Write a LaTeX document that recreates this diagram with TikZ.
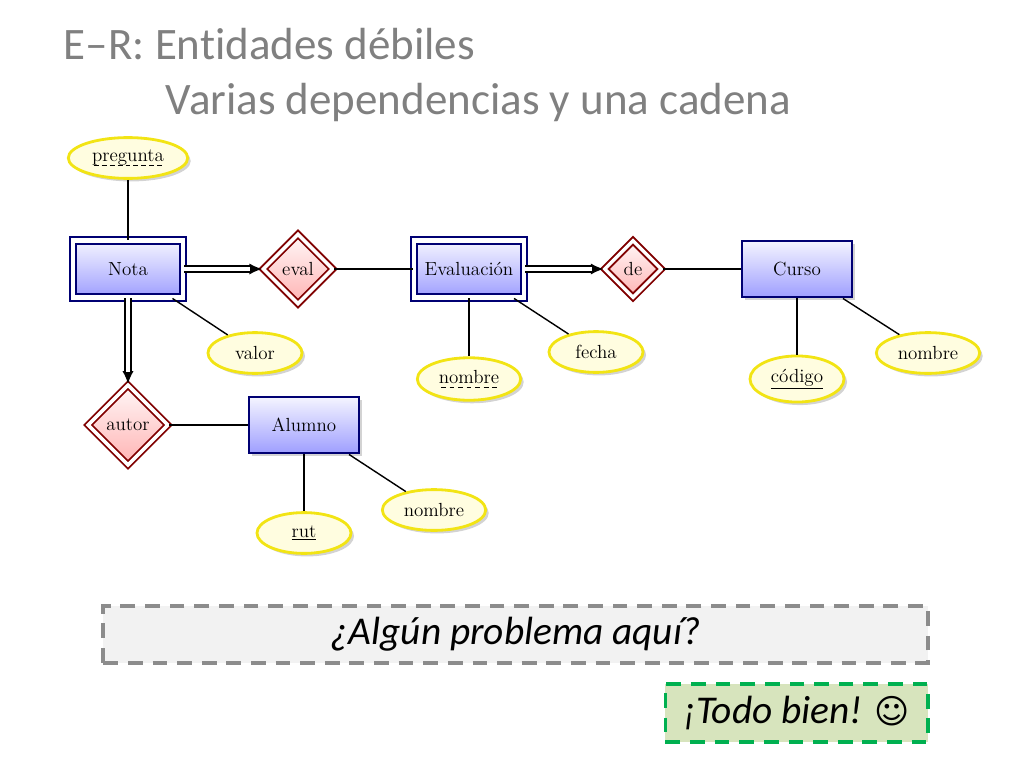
\documentclass[tikz,border=0pt]{standalone}
\usepackage{fontspec}
\usepackage{tikz}
\usetikzlibrary{arrows.meta, positioning, shapes.geometric, shapes, shadows}

\newfontfamily\slidefont[Ligatures={TeX,NoCommon}]{Carlito}
\newfontfamily\symbolfont{DejaVu Sans}
\definecolor{titlegray}{HTML}{808080}
\definecolor{boxgray}{HTML}{8C8C8C}
\definecolor{boxfill}{HTML}{F2F2F2}
\definecolor{okgreen}{HTML}{00B050}
\definecolor{okfill}{HTML}{D7E4BD}
\definecolor{attrborder}{RGB}{242,228,20}

% dashed underline for partial keys
\newcommand{\partkey}[1]{\setbox0=\hbox{#1}\leavevmode\rlap{\copy0}%
  \raisebox{-3pt}{\hbox to \wd0{\xleaders\hbox to 5.5pt{\hss\vrule width 3.5pt height 0.5pt\hss}\hfill}}}

\begin{document}
\begin{tikzpicture}[x=0.025cm, y=-0.025cm,
  entity/.style={rectangle, draw=blue!45!black, line width=1.5pt,
    top color=blue!4, bottom color=blue!38,
    minimum width=2.75cm, minimum height=1.42cm,
    drop shadow={opacity=0.35}, font=\fontsize{13.5}{15}\selectfont},
  weakentity/.style={entity, double, double distance=3pt},
  identrel/.style={diamond, aspect=1, draw=red!50!black, line width=1.3pt,
    top color=red!3, bottom color=red!30, inner sep=4.5pt,
    double, double distance=2.5pt, font=\fontsize{13.5}{15}\selectfont},
  attribute/.style={ellipse, draw=attrborder, line width=2pt, fill=yellow!12,
    inner sep=4.5pt, minimum width=2.35cm, minimum height=1.02cm,
    drop shadow={opacity=0.35}, font=\fontsize{13.5}{15}\selectfont},
  link/.style={line width=1pt},
  idarrow/.style={line width=1pt, -{Latex[length=9pt, width=8pt]}},
  idline/.style={line width=1pt, double, double distance=3.5pt, shorten >=8.5pt},
  slidetitle/.style={anchor=base west, text=titlegray, font=\slidefont\fontsize{32}{38}\selectfont},
  problembox/.style={draw=boxgray, fill=boxfill, line width=2.8pt, dash pattern=on 10.5pt off 7pt,
    minimum width=20.6cm, minimum height=1.42cm, font=\slidefont\itshape\fontsize{28}{34}\selectfont},
  okbox/.style={draw=okgreen, fill=okfill, line width=2.8pt, dash pattern=on 10.5pt off 7pt,
    minimum width=6.55cm, minimum height=1.44cm, font=\slidefont\itshape\fontsize{28}{34}\selectfont}
]
\useasboundingbox (0,0) rectangle (1024,768);

% title
\node[slidetitle] (title1) at (59,60) {E–R: Entidades débiles};
\node[slidetitle] (title2) at (161,115) {Varias dependencias y una cadena};

% entities and relationships
\node[weakentity] (nota) at (128,269) {Nota};
\node[identrel] (eval) at (298,269) {eval};
\node[weakentity] (evaluacion) at (469,269) {Evaluación};
\node[identrel] (de) at (633,269) {de};
\node[entity] (curso) at (797,269) {Curso};
\node[identrel] (autor) at (128,425) {autor};
\node[entity] (alumno) at (304,425) {Alumno};

% attributes
\node[attribute] (pregunta) at (128,158) {\partkey{pregunta}};
\node[attribute] (valor) at (255,353) {valor};
\node[attribute] (nombreEval) at (469,379) {\partkey{nombre}};
\node[attribute] (fecha) at (596,352) {fecha};
\node[attribute] (codigo) at (797,379) {\underline{código}};
\node[attribute] (nombreCurso) at (928,353) {nombre};
\node[attribute] (rut) at (304,533) {\underline{rut}};
\node[attribute] (nombreAlumno) at (434,510) {nombre};

% lines
\draw [link] (pregunta) -- (nota);
\draw [link] (nota) -- (valor);
\draw [link] (eval) -- (evaluacion);
\draw [link] (evaluacion) -- (nombreEval);
\draw [link] (evaluacion) -- (fecha);
\draw [link] (de) -- (curso);
\draw [link] (curso) -- (codigo);
\draw [link] (curso) -- (nombreCurso);
\draw [link] (autor) -- (alumno);
\draw [link] (alumno) -- (rut);
\draw [link] (alumno) -- (nombreAlumno);

% arrows
\draw [idarrow] (nota) -- (eval);
\draw [idline] (nota) -- (eval);
\draw [idarrow] (evaluacion) -- (de);
\draw [idline] (evaluacion) -- (de);
\draw [idarrow] (nota) -- (autor);
\draw [idline] (nota) -- (autor);

% boxes
\node[problembox] (problema) at (515.5,634.5) {¿Algún problema aquí?};
\node[okbox] (todobien) at (796.5,713) {¡Todo bien! {\symbolfont\upshape\fontsize{24}{30}\selectfont ☺}};

\end{tikzpicture}
\end{document}
